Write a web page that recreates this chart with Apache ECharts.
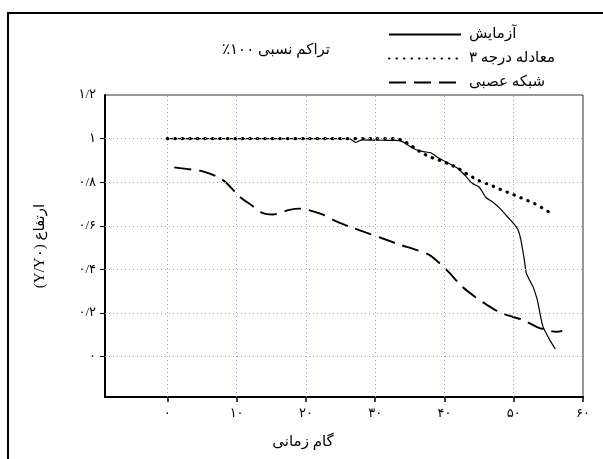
<!DOCTYPE html>
<html dir="rtl">
<head>
<meta charset="utf-8">
<script src="https://cdn.jsdelivr.net/npm/echarts@6/dist/echarts.min.js"></script>
<style>html,body{margin:0;padding:0;background:#fff;}#c{width:603px;height:459px;}</style>
</head>
<body>
<div id="c"></div>
<script>
// ---- data ----
const seriesNames = ['آزمایش', 'معادله درجه ۳', 'شبکه عصبی'];
const expX = [0, 5, 10, 15, 20, 25, 26.3, 26.8, 27.2, 27.7, 28.2, 30, 32, 33, 34, 35, 36, 37, 38, 39, 40, 41, 42, 43, 44, 45, 46, 47, 48, 49, 50, 50.6, 51, 51.5, 51.8, 52.3, 52.8, 53.4, 54.2, 55.2, 56];
const expY = [1, 1, 1, 1, 1, 1, 1, 0.99, 0.982, 0.99, 0.994, 0.993, 0.992, 0.992, 0.985, 0.965, 0.948, 0.94, 0.935, 0.915, 0.897, 0.88, 0.862, 0.83, 0.795, 0.778, 0.73, 0.708, 0.68, 0.645, 0.61, 0.583, 0.54, 0.45, 0.385, 0.35, 0.32, 0.26, 0.14, 0.077, 0.035];
const eqX = [0, 10, 20, 30, 33, 34, 35, 36, 37, 38, 39, 40, 41, 42, 43, 44, 45, 46, 47, 48, 49, 50, 51, 52, 53, 54, 55, 55.6];
const eqY = [1, 1, 1, 1, 1, 0.99, 0.972, 0.95, 0.93, 0.915, 0.904, 0.892, 0.879, 0.863, 0.843, 0.824, 0.807, 0.795, 0.782, 0.768, 0.755, 0.742, 0.729, 0.716, 0.702, 0.684, 0.665, 0.652];
const annX = [1, 3.5, 5.1, 7.1, 8.3, 10.4, 11.9, 13.8, 15.2, 17.6, 19.1, 20.1, 22.4, 24.4, 26.3, 28.7, 31, 33.5, 35.9, 37.8, 39.6, 40.7, 42.6, 44.6, 46.1, 47.9, 49.8, 51.3, 53.3, 54.7, 56.2, 57];
const annY = [0.868, 0.858, 0.85, 0.827, 0.803, 0.735, 0.7, 0.658, 0.652, 0.673, 0.679, 0.675, 0.652, 0.62, 0.596, 0.569, 0.543, 0.514, 0.49, 0.467, 0.42, 0.385, 0.32, 0.27, 0.238, 0.205, 0.183, 0.169, 0.137, 0.123, 0.114, 0.118];
const xTickValues = [0, 10, 20, 30, 40, 50, 60];
const xTickLabels = ['۰', '۱۰', '۲۰', '۳۰', '۴۰', '۵۰', '۶۰'];
const yTickValues = [0, 0.2, 0.4, 0.6, 0.8, 1, 1.2];
const yTickLabels = ['۰', '۰/۲', '۰/۴', '۰/۶', '۰/۸', '۱', '۱/۲'];
const xGridValues = [0, 10, 20, 30, 40, 50];
const yGridValues = [0, 0.2, 0.4, 0.6, 0.8, 1];
const titleText = 'تراکم نسبی ۱۰۰٪';
const xName = 'گام زمانی';
const yName = 'ارتفاع (Y/Y۰)';

const zip = (xs, ys) => xs.map((x, i) => [x, ys[i]]);
const lookup = (vals, labels, v) => {
  let best = 0;
  vals.forEach((t, i) => { if (Math.abs(t - v) < Math.abs(vals[best] - v)) best = i; });
  return labels[best];
};
const FONT = 'Liberation Serif, DejaVu Sans, serif';

const chart = echarts.init(document.getElementById('c'), null, {renderer: 'canvas'});
const gridLine = {type: [1, 3], color: '#9c9cd0', width: 1};
chart.setOption({
  animation: false,
  backgroundColor: '#fff',
  title: [
    {text: titleText, left: 271, top: 38, textAlign: 'center',
     textStyle: {fontFamily: FONT, fontSize: 15, fontWeight: 'normal', color: '#000'}},
    {text: xName, left: 298, top: 430, textAlign: 'center',
     textStyle: {fontFamily: FONT, fontSize: 15, fontWeight: 'normal', color: '#000'}}
  ],
  graphic: [{
    type: 'rect', shape: {x: 8, y: 13, width: 700, height: 600},
    style: {fill: 'none', stroke: '#000', lineWidth: 2}, silent: true, z: -1
  }],
  legend: {
    orient: 'vertical', left: 383, top: 22,
    itemWidth: 72, itemHeight: 14, itemGap: 9, itemStyle: {opacity: 0},
    textStyle: {fontFamily: FONT, fontSize: 15, color: '#000', padding: [0, 0, 0, 3]},
    data: seriesNames
  },
  grid: {left: 105, top: 95, right: 20, bottom: 62, show: true, borderColor: '#333', borderWidth: 1, containLabel: false},
  xAxis: {
    type: 'value', min: -9, max: 60,
    axisLine: {show: true, onZero: false, lineStyle: {color: '#000', width: 2}},
    axisTick: {show: true, length: 5, inside: false, customValues: xTickValues, lineStyle: {color: '#000', width: 1.5}},
    axisLabel: {customValues: xTickValues, margin: 10, color: '#000', fontFamily: FONT, fontSize: 13,
      formatter: v => lookup(xTickValues, xTickLabels, v)},
    splitLine: {show: false}
  },
  yAxis: {
    type: 'value', min: -0.185, max: 1.2,
    name: yName, nameLocation: 'middle', nameGap: 57, nameRotate: 90,
    nameTextStyle: {fontFamily: FONT, fontSize: 15, color: '#000'},
    axisLine: {show: true, onZero: false, lineStyle: {color: '#000', width: 2}},
    axisTick: {show: true, length: 5, customValues: yGridValues, lineStyle: {color: '#000', width: 1}},
    axisLabel: {customValues: yTickValues, margin: 9, color: '#000', fontFamily: FONT, fontSize: 13,
      formatter: v => lookup(yTickValues, yTickLabels, v)},
    splitLine: {show: false}
  },
  series: [
    {
      name: seriesNames[0], type: 'line', data: zip(expX, expY), symbol: 'none', smooth: 0.2,
      lineStyle: {color: '#000', width: 1.2, type: 'solid'}, z: 3,
      markLine: {
        silent: true, symbol: ['none', 'none'], label: {show: false}, animation: false,
        lineStyle: gridLine,
        data: xGridValues.map(v => ({xAxis: v})).concat(yGridValues.map(v => ({yAxis: v})))
      }
    },
    {
      name: seriesNames[1], type: 'line', data: zip(eqX, eqY), symbol: 'none', smooth: 0.2,
      lineStyle: {color: '#000', width: 3.2, type: [0.5, 7], cap: 'round'}, z: 4
    },
    {
      name: seriesNames[2], type: 'line', data: zip(annX, annY), symbol: 'none', smooth: 0.3,
      lineStyle: {color: '#000', width: 1.9, type: [17, 8]}, z: 3
    }
  ]
});
</script>
</body>
</html>
